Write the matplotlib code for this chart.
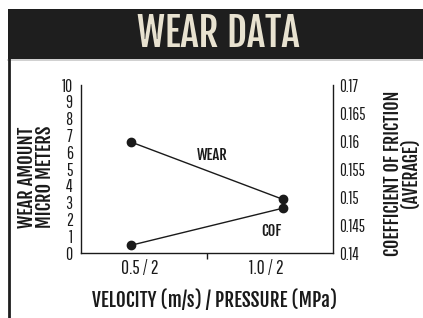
import matplotlib
matplotlib.use("Agg")
import matplotlib.pyplot as plt
from matplotlib.patches import Rectangle
from matplotlib.lines import Line2D

# 데이터
categories = ["0.5 / 2", "1.0 / 2"]
x_points = [0.4, 1.6]
wear = [6.6, 3.2]
cof = [0.1414, 0.148]
wear_ticks = list(range(0, 11))
cof_ticks = [0.14, 0.145, 0.15, 0.155, 0.16, 0.165, 0.17]

HEAD = ["Fjalla One", "DejaVu Sans"]
TICK = ["Pathway Gothic One", "DejaVu Sans"]
plt.rcParams["font.family"] = TICK
INK = "#1a1a1a"

fig = plt.figure(figsize=(4.23, 3.18), dpi=100)
fig.patch.set_facecolor("white")

# 헤더 띠
fig.patches.append(Rectangle((0.019, 0.8145), 0.981, 0.157, transform=fig.transFigure,
                             facecolor="#1e1e1e", edgecolor="none", zorder=0))
fig.lines.append(Line2D([0.019, 1.0], [0.810, 0.810], transform=fig.transFigure,
                        color="#c8c8c8", lw=1.2))
fig.lines.append(Line2D([0.0213, 0.0213], [0.0, 0.8145], transform=fig.transFigure,
                        color="#1e1e1e", lw=2))
fig.text(0.515, 0.893, "WEAR DATA", ha="center", va="center", color="#e8e2d0",
         fontsize=28, family=HEAD)

ax = fig.add_axes([0.1915, 0.2044, 0.596, 0.528])
ax.plot(x_points, wear, color=INK, lw=1, marker="o", markersize=6, zorder=3)
ax.set_xlim(0, 2)
ax.set_ylim(0, 10)
ax.set_yticks(wear_ticks)
ax.set_xticks([0.47, 1.47])
ax.set_xticklabels(categories)
ax.set_xticks([1.0], minor=True)
ax.tick_params(axis="y", length=0, pad=6, labelsize=12.5, labelcolor=INK)
ax.tick_params(axis="x", which="major", length=0, pad=4, labelsize=14, labelcolor=INK)
ax.tick_params(axis="x", which="minor", length=4, width=1, direction="out", color=INK)
for s in ["top", "right"]:
    ax.spines[s].set_visible(False)
for s in ["left", "bottom"]:
    ax.spines[s].set_linewidth(1)
    ax.spines[s].set_color(INK)

ax2 = ax.twinx()
ax2.plot(x_points, cof, color=INK, lw=1, marker="o", markersize=6, zorder=3)
ax2.set_ylim(0.14, 0.17)
ax2.set_yticks(cof_ticks)
ax2.set_yticklabels([f"{v:g}" for v in cof_ticks])
ax2.tick_params(axis="y", length=0, pad=4, labelsize=12, labelcolor=INK)
for s in ["top", "left", "bottom"]:
    ax2.spines[s].set_visible(False)
ax2.spines["right"].set_linewidth(1)
ax2.spines["right"].set_color(INK)

ax.text(1.04, 5.83, "WEAR", ha="center", va="center", fontsize=10.5, color=INK, family=HEAD)
ax.text(1.51, 1.31, "COF", ha="center", va="center", fontsize=10.5, color=INK, family=HEAD)

fig.text(0.085, 0.443, "WEAR AMOUNT\nMICRO METERS", rotation=90, ha="center", va="center",
         fontsize=13.3, linespacing=0.85, color=INK, family=HEAD)
fig.text(0.950, 0.456, "COEFFICIENT OF FRICTION\n(AVERAGE)", rotation=90, ha="center",
         va="center", fontsize=12.8, linespacing=0.85, color=INK, family=HEAD)
fig.text(0.508, 0.057, "VELOCITY (m/s) / PRESSURE (MPa)", ha="center", va="center",
         fontsize=13.8, color=INK, family=HEAD)

fig.savefig("out.png", dpi=100)
